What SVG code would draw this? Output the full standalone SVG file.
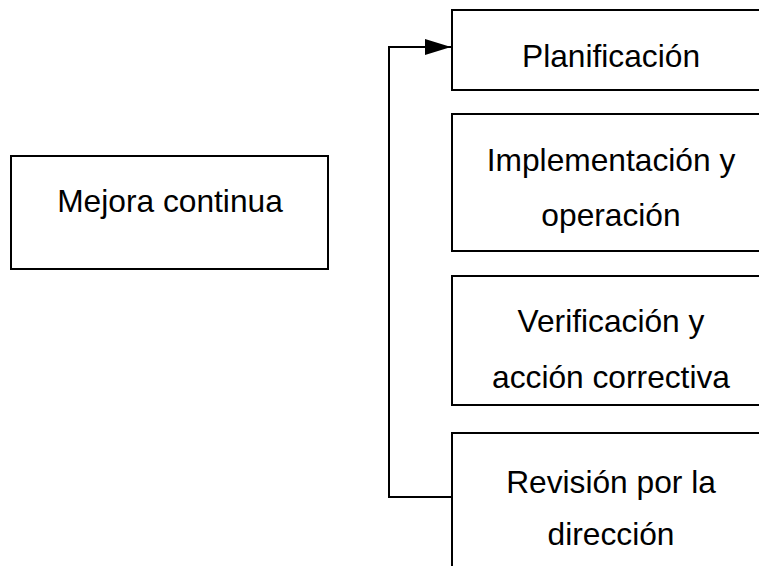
<svg xmlns="http://www.w3.org/2000/svg" width="759" height="566" viewBox="0 0 759 566">
<style>
.box{fill:#fff;stroke:#000;stroke-width:2}
.t{font-family:"Liberation Sans",Arial,sans-serif;font-size:30.5px;fill:#000;text-anchor:middle}
.c{fill:none;stroke:#000;stroke-width:2}
</style>
<defs>
<marker id="ah" markerUnits="userSpaceOnUse" markerWidth="26" markerHeight="16" refX="26" refY="8" orient="auto">
<path d="M0,0 L26,8 L0,16 Z" fill="#000"/>
</marker>
</defs>
<rect width="759" height="566" fill="#fff"/>
<g id="mejora">
<rect class="box" x="11" y="156" width="317" height="113"/>
<text class="t" transform="translate(170,212) scale(1.04,1)">Mejora continua</text>
</g>
<g id="planificacion">
<rect class="box" x="452" y="10" width="330" height="80"/>
<text class="t" transform="translate(611,67) scale(1.04,1)">Planificación</text>
</g>
<g id="implementacion">
<rect class="box" x="452" y="114" width="330" height="137"/>
<text class="t" transform="translate(611,171) scale(1.04,1)">Implementación y</text>
<text class="t" transform="translate(611,226) scale(1.04,1)">operación</text>
</g>
<g id="verificacion">
<rect class="box" x="452" y="276" width="330" height="129"/>
<text class="t" transform="translate(611,332) scale(1.04,1)">Verificación y</text>
<text class="t" transform="translate(611,388) scale(1.04,1)">acción correctiva</text>
</g>
<g id="revision">
<rect class="box" x="452" y="433" width="330" height="160"/>
<text class="t" transform="translate(611,493) scale(1.04,1)">Revisión por la</text>
<text class="t" transform="translate(611,545) scale(1.04,1)">dirección</text>
</g>
<g id="connectors">
<path class="c" d="M452,497 H389 V47 H451" marker-end="url(#ah)"/>
</g>
</svg>
